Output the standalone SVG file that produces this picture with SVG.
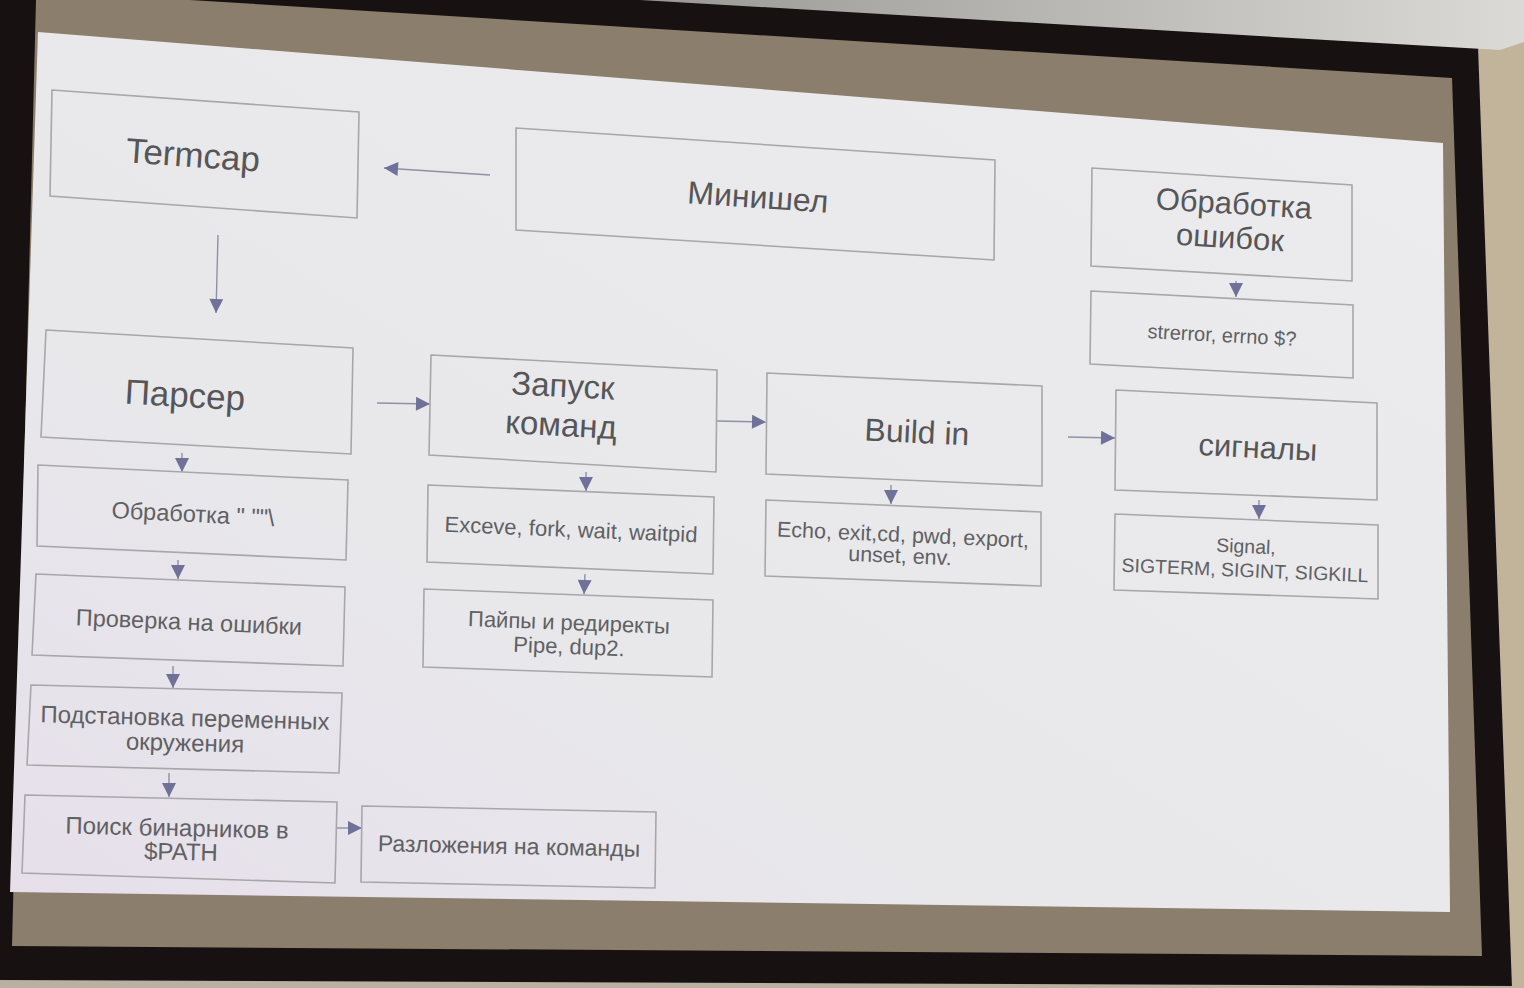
<svg xmlns="http://www.w3.org/2000/svg" width="1524" height="988" viewBox="0 0 1524 988">
<style>
.box{fill:none;stroke:#a7a7ab;stroke-width:1.6}
.big{font-family:"Liberation Sans",Arial,sans-serif;font-size:32px;fill:#565658;text-anchor:middle}
.mid{font-family:"Liberation Sans",Arial,sans-serif;font-size:31px;fill:#565658;text-anchor:middle}
.sm{font-family:"Liberation Sans",Arial,sans-serif;font-size:22px;fill:#606062;text-anchor:middle}
.xs{font-family:"Liberation Sans",Arial,sans-serif;font-size:20px;fill:#606062;text-anchor:middle}
.con{stroke:#8e90a8;stroke-width:1.4;fill:none;marker-end:url(#ah)}
</style>
<defs>
<marker id="ah" viewBox="0 0 10 10" refX="10" refY="5" markerUnits="userSpaceOnUse" markerWidth="15" markerHeight="14" orient="auto">
<path d="M0,0 L10,5 L0,10 z" fill="#6f7199"/>
</marker>
<linearGradient id="slide" x1="0" y1="1" x2="1" y2="0">
<stop offset="0" stop-color="#e6dfea"/>
<stop offset="0.35" stop-color="#e8e8eb"/>
<stop offset="1" stop-color="#ececee"/>
</linearGradient>
<linearGradient id="casing" x1="0" y1="0" x2="1" y2="0">
<stop offset="0" stop-color="#9a9894"/>
<stop offset="1" stop-color="#dcdad6"/>
</linearGradient>
</defs>
<!-- surroundings -->
<rect x="0" y="0" width="1524" height="988" fill="#171211"/>
<polygon points="1478,46 1524,40 1524,988 1512,988" fill="#c2b39b"/>
<polygon points="640,0 1524,0 1524,42 1500,50" fill="url(#casing)"/>
<polygon points="0,980 1512,986 1512,988 0,988" fill="#b9b0a2"/>
<polygon points="36,0 190,0 1452,78 1482,956 12,946" fill="#8c7e6d"/>
<!-- slide -->
<polygon points="38,32 1443,143 1450,912 10,892" fill="url(#slide)"/>

<g id="connectors">
<line class="con" x1="490" y1="175" x2="384" y2="168"/>
<line class="con" x1="218" y1="235" x2="216" y2="313"/>
<line class="con" x1="377" y1="403" x2="430" y2="404"/>
<line class="con" x1="717" y1="421" x2="766" y2="422"/>
<line class="con" x1="1068" y1="437" x2="1115" y2="438"/>
<line class="con" x1="1236" y1="281" x2="1236" y2="297"/>
<line class="con" x1="1259" y1="500" x2="1259" y2="519"/>
<line class="con" x1="586" y1="472" x2="586" y2="491"/>
<line class="con" x1="585" y1="574" x2="584" y2="594"/>
<line class="con" x1="891" y1="485" x2="891" y2="504"/>
<line class="con" x1="182" y1="453" x2="182" y2="472"/>
<line class="con" x1="178" y1="560" x2="178" y2="579"/>
<line class="con" x1="173" y1="666" x2="173" y2="688"/>
<line class="con" x1="169" y1="773" x2="169" y2="797"/>
<line class="con" x1="337" y1="828" x2="362" y2="828"/>
</g>

<g id="termcap">
<polygon class="box" points="52,90 359,112 357,218 50,196"/>
<text class="big" x="193" y="167" style="font-size:35px" transform="rotate(4 193 155)">Termcap</text>
</g>
<g id="minishell">
<polygon class="box" points="516,128 995,160 994,260 516,230"/>
<text class="big" x="758" y="208" transform="rotate(3.8 758 197)">Минишел</text>
</g>
<g id="errors">
<polygon class="box" points="1092,168 1352,185 1352,281 1091,266"/>
<text class="mid" x="1234" y="214" transform="rotate(3.5 1234 203)">Обработка</text>
<text class="mid" x="1230" y="248" transform="rotate(3.5 1230 237)">ошибок</text>
</g>
<g id="strerror">
<polygon class="box" points="1091,291 1353,305 1353,378 1090,364"/>
<text class="xs" x="1222" y="342" transform="rotate(3 1222 335)">strerror, errno $?</text>
</g>
<g id="parser">
<polygon class="box" points="46,330 353,348 351,454 41,437"/>
<text class="big" x="185" y="407" style="font-size:35px" transform="rotate(3.3 185 395)">Парсер</text>
</g>
<g id="launch">
<polygon class="box" points="431,355 717,370 716,472 429,455"/>
<text class="big" x="563" y="397" style="font-size:33px" transform="rotate(3 563 386)">Запуск</text>
<text class="big" x="561" y="436" style="font-size:33px" transform="rotate(3 561 425)">команд</text>
</g>
<g id="buildin">
<polygon class="box" points="767,373 1042,386 1042,486 766,474"/>
<text class="big" x="917" y="443" transform="rotate(2.7 917 432)">Build in</text>
</g>
<g id="signals">
<polygon class="box" points="1116,390 1377,403 1377,500 1115,490"/>
<text class="mid" x="1258" y="458" transform="rotate(2.8 1258 447)">сигналы</text>
</g>
<g id="signal-list">
<polygon class="box" points="1115,514 1378,525 1378,599 1114,590"/>
<text class="sm" x="1246" y="553" style="font-size:19.5px" transform="rotate(2.4 1246 546)">Signal,</text>
<text class="sm" x="1245" y="577" style="font-size:19.5px" transform="rotate(2.4 1245 570)">SIGTERM, SIGINT, SIGKILL</text>
</g>
<g id="exec">
<polygon class="box" points="428,485 714,497 713,574 427,562"/>
<text class="sm" x="571" y="537" transform="rotate(2.4 571 530)">Exceve, fork, wait, waitpid</text>
</g>
<g id="pipes">
<polygon class="box" points="424,589 713,600 712,677 423,667"/>
<text class="sm" x="569" y="630" transform="rotate(2.2 569 623)">Пайпы и редиректы</text>
<text class="sm" x="569" y="654" transform="rotate(2.2 569 647)">Pipe, dup2.</text>
</g>
<g id="builtins">
<polygon class="box" points="766,500 1041,512 1041,586 765,576"/>
<text class="sm" x="903" y="542" style="font-size:21.5px" transform="rotate(2.5 903 535)">Echo, exit,cd, pwd, export,</text>
<text class="sm" x="900" y="563" style="font-size:21.5px" transform="rotate(2.5 900 556)">unset, env.</text>
</g>
<g id="quotes">
<polygon class="box" points="38,465 348,480 346,560 37,546"/>
<text class="sm" x="193" y="522" style="font-size:23.5px" transform="rotate(2.8 193 514)">Обработка " ""\</text>
</g>
<g id="check">
<polygon class="box" points="36,574 345,587 343,666 32,655"/>
<text class="sm" x="189" y="630" style="font-size:23.5px" transform="rotate(2.4 189 622)">Проверка на ошибки</text>
</g>
<g id="env">
<polygon class="box" points="31,685 342,693 339,773 27,765"/>
<text class="sm" x="185" y="726" style="font-size:24px" transform="rotate(1.5 185 718)">Подстановка переменных</text>
<text class="sm" x="185" y="751" style="font-size:24px" transform="rotate(1.5 185 743)">окружения</text>
</g>
<g id="path">
<polygon class="box" points="25,795 337,802 335,883 22,873"/>
<text class="sm" x="177" y="836" style="font-size:24px" transform="rotate(1.3 177 828)">Поиск бинарников в</text>
<text class="sm" x="181" y="860" style="font-size:24px" transform="rotate(1.3 181 852)">$PATH</text>
</g>
<g id="split">
<polygon class="box" points="362,806 656,812 655,888 361,882"/>
<text class="sm" x="509" y="854" style="font-size:23px" transform="rotate(1.2 509 846)">Разложения на команды</text>
</g>
</svg>
